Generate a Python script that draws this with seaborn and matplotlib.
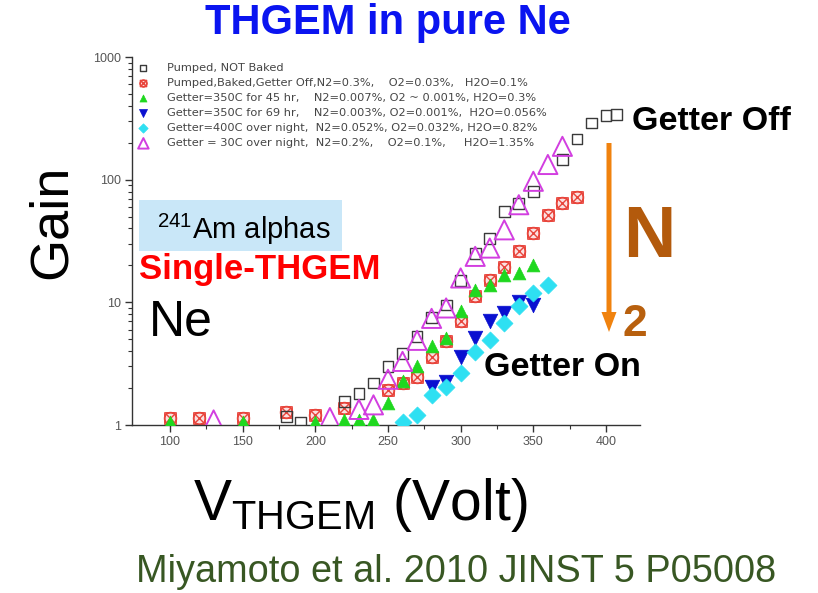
import numpy as np
import pandas as pd
import matplotlib
matplotlib.use("Agg")
import matplotlib.pyplot as plt
from matplotlib.path import Path
from matplotlib.patches import Rectangle, FancyArrow
from matplotlib.ticker import FixedLocator, FixedFormatter, LogLocator, NullFormatter
import seaborn as sns

# ---- measured gain vs THGEM voltage, pure Ne ----
v_not_baked = [180, 190, 220, 230, 240, 250, 260, 270, 280, 290, 300, 310, 320, 330, 340, 350, 370, 380, 390, 400, 407]
g_not_baked = [1.17, 1.06, 1.55, 1.8, 2.2, 3.0, 3.85, 5.3, 7.5, 9.5, 15, 25, 33, 55, 64, 80, 146, 215, 290, 333, 340]

v_getter_off = [100, 120, 150, 180, 200, 220, 250, 260, 270, 280, 290, 300, 310, 320, 330, 340, 350, 360, 370, 380]
g_getter_off = [1.13, 1.13, 1.13, 1.28, 1.2, 1.37, 1.93, 2.2, 2.48, 3.6, 4.8, 7.0, 11.2, 15.3, 19.5, 26, 36.7, 52, 65, 72]

v_350_45 = [100, 150, 200, 220, 230, 240, 250, 260, 270, 280, 290, 300, 310, 320, 330, 340, 350]
g_350_45 = [1.05, 1.05, 1.05, 1.1, 1.1, 1.1, 1.5, 2.3, 3.05, 4.4, 5.1, 8.5, 12.6, 13.9, 16.7, 17.3, 20]

v_350_69 = [280, 290, 300, 310, 320, 330, 340, 350]
g_350_69 = [2.05, 2.26, 3.6, 5.1, 7.0, 8.2, 10.0, 9.5]

v_400_night = [260, 270, 280, 290, 300, 310, 320, 330, 340, 350, 360]
g_400_night = [1.06, 1.2, 1.76, 2.05, 2.64, 3.97, 4.94, 6.75, 9.25, 11.9, 13.9]

v_30_night = [130, 210, 230, 240, 250, 260, 270, 280, 290, 300, 310, 320, 330, 340, 350, 360, 370]
g_30_night = [1.1, 1.15, 1.34, 1.46, 2.36, 3.3, 4.9, 7.4, 9.0, 15.8, 23.7, 27.7, 39, 62.5, 97, 133, 187]

series_labels = [
    "Pumped, NOT Baked",
    "Pumped,Baked,Getter Off,N2=0.3%,    O2=0.03%,   H2O=0.1%",
    "Getter=350C for 45 hr,    N2=0.007%, O2 ~ 0.001%, H2O=0.3%",
    "Getter=350C for 69 hr,    N2=0.003%, O2=0.001%,  H2O=0.056%",
    "Getter=400C over night,  N2=0.052%, O2=0.032%, H2O=0.82%",
    "Getter = 30C over night,  N2=0.2%,    O2=0.1%,     H2O=1.35%",
]

x_ticks = [100, 150, 200, 250, 300, 350, 400]
y_ticks = [1, 10, 100, 1000]
y_tick_labels = ["1", "10", "100", "1000"]

sns.set_style("ticks")
plt.rcParams["font.family"] = ["Liberation Sans", "DejaVu Sans"]
plt.rcParams["mathtext.fontset"] = "custom"
plt.rcParams["mathtext.rm"] = "Liberation Sans"
plt.rcParams["mathtext.it"] = "Liberation Sans:italic"
plt.rcParams["mathtext.bf"] = "Liberation Sans:bold"

W, H = 818, 593
fig = plt.figure(figsize=(W / 100, H / 100), dpi=100)


def fx(px):
    return px / W


def fy(py):
    return 1 - py / H


ax = fig.add_axes([fx(132), fy(425), fx(640) - fx(132), fy(57) - fy(425)])

# circle with a cross inside a square, for the baked / getter-off series
otimes = Path.make_compound_path(
    Path.unit_rectangle().transformed(matplotlib.transforms.Affine2D().translate(-0.5, -0.5).scale(1.9)),
    Path.unit_circle(),
    Path([(-0.7, -0.7), (0.7, 0.7)], [Path.MOVETO, Path.LINETO]),
    Path([(-0.7, 0.7), (0.7, -0.7)], [Path.MOVETO, Path.LINETO]),
)

sns.scatterplot(x=v_not_baked, y=g_not_baked, marker="s", s=60, facecolor="none",
                edgecolor="#3a3a3a", linewidth=1.0, ax=ax, label=series_labels[0], zorder=3)
sns.scatterplot(x=v_getter_off, y=g_getter_off, marker=otimes, s=75, facecolor="#fbe0e0",
                edgecolor="#e8453c", linewidth=1.0, ax=ax, label=series_labels[1], zorder=2)
sns.scatterplot(x=v_350_45, y=g_350_45, marker="^", s=85, color="#1fd81f",
                edgecolor="#1fd81f", linewidth=0.5, ax=ax, label=series_labels[2], zorder=4)
sns.scatterplot(x=v_350_69, y=g_350_69, marker="v", s=110, color="#0a10d0",
                edgecolor="#0a10d0", linewidth=0.5, ax=ax, label=series_labels[3], zorder=4)
sns.scatterplot(x=v_400_night, y=g_400_night, marker="D", s=75, color="#2ee0f2",
                edgecolor="#2ee0f2", linewidth=0.5, ax=ax, label=series_labels[4], zorder=4)
sns.scatterplot(x=v_30_night, y=g_30_night, marker="^", s=190, facecolor="none",
                edgecolor="#d23ee0", linewidth=1.4, ax=ax, label=series_labels[5], zorder=5)

ax.set_yscale("log")
ax.set_xlim(73.85, 423.4)
ax.set_ylim(1, 1000)
ax.xaxis.set_major_locator(FixedLocator(x_ticks))
ax.xaxis.set_minor_locator(FixedLocator([125, 175, 225, 275, 325, 375]))
ax.yaxis.set_major_locator(FixedLocator(y_ticks))
ax.yaxis.set_major_formatter(FixedFormatter(y_tick_labels))
ax.yaxis.set_minor_locator(LogLocator(base=10, subs=np.arange(2, 10)))
ax.yaxis.set_minor_formatter(NullFormatter())
ax.tick_params(axis="both", which="major", length=5, width=1.0, color="#333333",
               labelsize=9, labelcolor="#555555", pad=3)
ax.tick_params(axis="both", which="minor", length=3, width=0.8, color="#333333")
for side in ("left", "bottom"):
    ax.spines[side].set_color("#333333")
    ax.spines[side].set_linewidth(1.0)
sns.despine(ax=ax)
ax.set_xlabel("")
ax.set_ylabel("")

leg = ax.legend(loc="upper left", bbox_to_anchor=(0.0, 1.0), frameon=False,
                prop={"family": "DejaVu Sans", "size": 8.2}, markerscale=0.55,
                handletextpad=1.6, labelspacing=0.45, borderpad=0.3,
                handlelength=1.0, borderaxespad=0.2)
for t in leg.get_texts():
    t.set_color("#454545")

# titles and annotations
fig.text(fx(388), fy(23), "THGEM in pure Ne", ha="center", va="center",
         fontsize=30, fontweight="bold", color="#0a14f0")
fig.text(fx(52), fy(222), "Gain", ha="center", va="center", rotation=90,
         fontsize=39, color="black")
fig.text(fx(360), fy(505), r"V$_{\mathrm{THGEM}}$ (Volt)", ha="center", va="center",
         fontsize=41, color="black")
fig.text(fx(456), fy(572), "Miyamoto et al. 2010 JINST 5 P05008", ha="center", va="center",
         fontsize=27.3, color="#385723")

fig.add_artist(Rectangle((fx(139), fy(251)), fx(342) - fx(139), fy(200) - fy(251),
                         transform=fig.transFigure, facecolor="#c9e7f8", edgecolor="none"))
fig.text(fx(157), fy(229), r"$^{241}$Am alphas", ha="left", va="center", fontsize=21, color="black")
fig.text(fx(139), fy(270), "Single-THGEM", ha="left", va="center", fontsize=25,
         fontweight="bold", color="#ff0000")
fig.text(fx(149), fy(323), "Ne", ha="left", va="center", fontsize=36, color="black")

fig.text(fx(632), fy(122), "Getter Off", ha="left", va="center", fontsize=24.5,
         fontweight="bold", color="black")
fig.text(fx(484), fy(367), "Getter On", ha="left", va="center", fontsize=24.5,
         fontweight="bold", color="black")
fig.text(fx(623), fy(238), "N", ha="left", va="center", fontsize=52,
         fontweight="bold", color="#b35a0c")
fig.text(fx(623), fy(324), "2", ha="left", va="center", fontsize=32,
         fontweight="bold", color="#b8600e")

fig.add_artist(FancyArrow(fx(609), fy(143), 0, fy(332) - fy(143), width=fx(5),
                          head_width=fx(15), head_length=(fy(312) - fy(332)),
                          length_includes_head=True, transform=fig.transFigure,
                          color="#f0820e", linewidth=0))

fig.savefig("out.png", dpi=100)
